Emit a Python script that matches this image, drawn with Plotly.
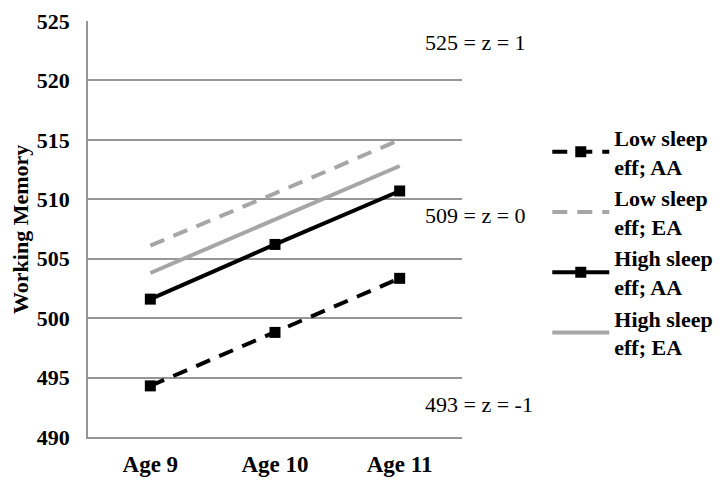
import plotly.graph_objects as go

categories = ["Age 9", "Age 10", "Age 11"]
low_aa = [494.3, 498.8, 503.35]
low_ea = [506.1, 510.5, 515.0]
high_aa = [501.6, 506.2, 510.7]
high_ea = [503.8, 508.3, 512.8]
series_names = ["Low sleep<br>eff; AA", "Low sleep<br>eff; EA", "High sleep<br>eff; AA", "High sleep<br>eff; EA"]
z_labels = ["525 = z = 1", "509 = z = 0", "493 = z = -1"]
y_ticks = [490, 495, 500, 505, 510, 515, 520, 525]
y_title = "Working Memory"

FONT = "Liberation Serif, Times New Roman, serif"

fig = go.Figure()
styles = [
    (low_aa, "black", "15px,10px", True),
    (low_ea, "#a6a6a6", "15px,10px", False),
    (high_aa, "black", "solid", True),
    (high_ea, "#a6a6a6", "solid", False),
]
for name, (vals, color, dash, markers) in zip(series_names, styles):
    fig.add_trace(go.Scatter(
        x=categories, y=vals, name=name,
        mode="lines+markers" if markers else "lines",
        line=dict(color=color, width=4, dash=dash),
        marker=dict(symbol="square", size=11, color=color),
    ))

ann_y = [523.2, 508.6, 492.75]
for txt, yy in zip(z_labels, ann_y):
    fig.add_annotation(x=0.895, xref="paper", xanchor="left", y=yy, yref="y",
                       text=txt, showarrow=False,
                       font=dict(family=FONT, size=22, color="black"))

fig.add_annotation(x=-0.182, xref="paper", y=0.5, yref="paper", text=y_title,
                   textangle=-90, showarrow=False, xanchor="center", yanchor="middle",
                   font=dict(family=FONT, size=22, color="black", weight="bold"))

fig.update_layout(
    width=723, height=484,
    margin=dict(l=80, r=269, t=13, b=55),
    plot_bgcolor="white", paper_bgcolor="white",
    font=dict(family=FONT, color="black"),
    showlegend=True,
    legend=dict(x=1.228, xanchor="left", y=0.77, yanchor="top",
                font=dict(family=FONT, size=22, color="black", weight="bold"),
                tracegroupgap=0, itemwidth=57, bgcolor="rgba(0,0,0,0)"),
    xaxis=dict(range=[-0.5, 2.5], showgrid=False, showline=True, automargin=False,
               linecolor="#969696", linewidth=1.5, ticks="", ticklabelstandoff=6,
               ticklabeloverflow="allow",
               tickfont=dict(family=FONT, size=23, weight="bold"), zeroline=False),
    yaxis=dict(range=[490, 525], tickvals=y_ticks, showgrid=True, automargin=False,
               gridcolor="#969696", gridwidth=1.5, showline=True,
               linecolor="#969696", linewidth=1.5, ticks="", zeroline=False,
               ticklabelstandoff=12, ticklabeloverflow="allow",
               tickfont=dict(family=FONT, size=22, weight="bold")),
)
fig.write_html("out.html")
